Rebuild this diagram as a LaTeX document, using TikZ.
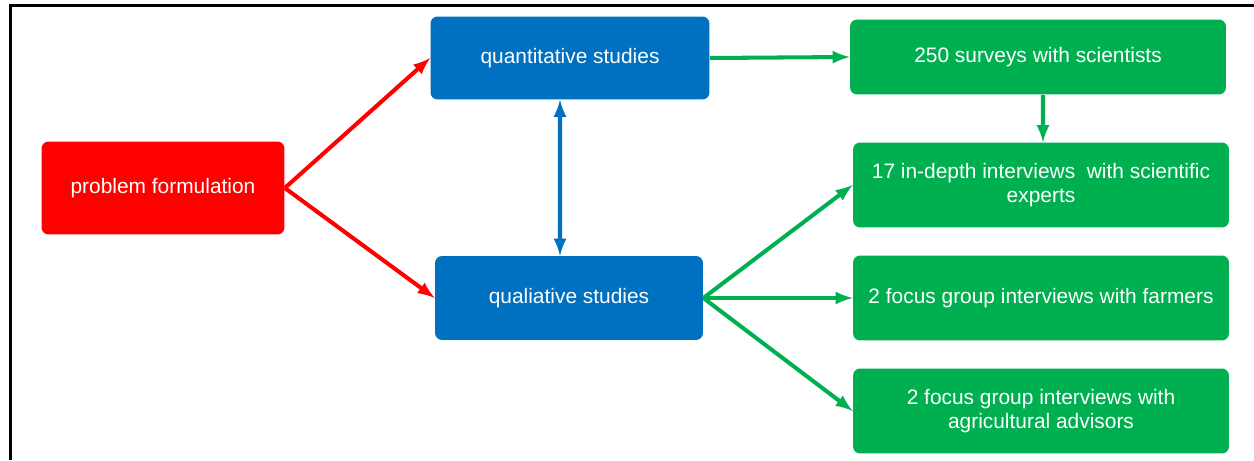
\documentclass[tikz,border=0pt]{standalone}
\usepackage{fontspec}
\setmainfont{Liberation Sans}
\usepackage{tikz}
\usetikzlibrary{arrows, positioning}

\definecolor{boxred}{HTML}{FF0000}
\definecolor{boxblue}{HTML}{0070C0}
\definecolor{boxgreen}{HTML}{00B050}

\tikzset{
    stagebox/.style={rectangle, rounded corners=4pt, text=white, align=center,
        inner sep=0pt, font=\fontsize{11.9}{13.6}\selectfont},
    redbox/.style={stagebox, fill=boxred, minimum width=4.86cm, minimum height=1.86cm},
    bluebox/.style={stagebox, fill=boxblue, minimum width=5.5cm, minimum height=1.66cm},
    greenbox/.style={stagebox, fill=boxgreen, minimum width=7.52cm, minimum height=1.7cm},
    redline/.style={->, draw=boxred, line width=2.3pt},
    blueline/.style={<->, draw=boxblue, line width=2.3pt},
    greenline/.style={->, draw=boxgreen, line width=2.3pt}
}

\begin{document}
\begin{tikzpicture}[>=latex, x=0.02cm, y=-0.02cm]
    \useasboundingbox (0,0) rectangle (1254,460);
    \draw[line width=1.7pt] (10.5,460) -- (10.5,5.5) -- (1254,5.5);

    \node[redbox] (problem) at (163,188) {problem formulation};
    \node[bluebox, minimum width=5.58cm] (quant) at (570,58) {quantitative studies};
    \node[bluebox, minimum width=5.36cm, minimum height=1.68cm] (qual) at (569,298) {qualiative studies};

    \node[greenbox, minimum height=1.5cm] (surveys) at (1038,57) {250 surveys with scientists};
    \node[greenbox] (experts) at (1041,185) {17 in-depth interviews\ \ with scientific\\experts};
    \node[greenbox] (farmers) at (1041,298) {2 focus group interviews with farmers};
    \node[greenbox] (advisors) at (1041,411) {2 focus group interviews with\\agricultural advisors};

    \draw[redline] (problem.east) -- (quant.west);
    \draw[redline] (problem.east) -- (qual.west);
    \draw[blueline] ([xshift=-0.2cm]quant.south) -- ([xshift=-0.18cm]qual.north);

    \draw[greenline] (quant.east) -- (surveys.west);
    \draw[greenline] ([xshift=0.1cm]surveys.south) -- ([xshift=0.04cm]experts.north);
    \draw[greenline] (qual.east) -- (experts.west);
    \draw[greenline] (qual.east) -- (farmers.west);
    \draw[greenline] (qual.east) -- (advisors.west);
\end{tikzpicture}
\end{document}
